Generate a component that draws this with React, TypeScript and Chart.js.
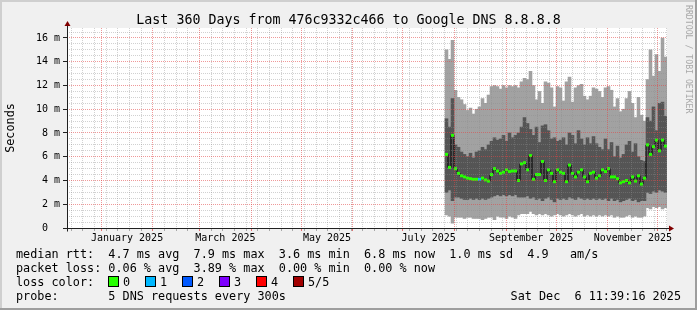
import React, { useEffect, useRef } from 'react';
import { Chart, registerables } from 'chart.js';

Chart.register(...registerables);

// ---------- text ----------
const TITLE = 'Last 360 Days from 476c9332c466 to Google DNS 8.8.8.8';
const Y_TITLE = 'Seconds';
const WATERMARK = 'RRDTOOL / TOBI OETIKER';
const LEGEND_RTT = 'median rtt:  4.7 ms avg  7.9 ms max  3.6 ms min  6.8 ms now  1.0 ms sd  4.9   am/s';
const LEGEND_LOSS = 'packet loss: 0.06 % avg  3.89 % max  0.00 % min  0.00 % now';
const LEGEND_LOSS_COLOR = 'loss color:';
const LEGEND_PROBE = 'probe:       5 DNS requests every 300s';
const STAMP = 'Sat Dec  6 11:39:16 2025';

// ---------- loss colour legend ----------
const lossLabels = ['0', '1', '2', '3', '4', '5/5'];
const lossColors = ['#26ff00', '#00b8ff', '#0059ff', '#7e00ff', '#ff0000', '#a10000'];

// ---------- time axis ----------
const RANGE_DAYS = 360;
const DAY_MS = 86400000;
const GRAPH_END = Date.UTC(2025, 11, 6, 11, 39, 16);
const GRAPH_START = GRAPH_END - RANGE_DAYS * DAY_MS;
const monthLabelNames = ['January 2025', 'March 2025', 'May 2025', 'July 2025', 'September 2025', 'November 2025'];
const monthLabelIndex = [0, 2, 4, 6, 8, 10];

// sampling of consolidated data (day offset of first column centre, column width in days)
const firstSampleDay = 227.7;
const sampleStepDays = 1.8;

// ---------- y axis ----------
const Y_MAX = 16.84;
const yMajorStep = 2;
const yMinorStep = 0.5;

// ---------- series (milliseconds) ----------
const outerHigh = [15.0, 14.2, 15.8, 11.6, 11.0, 10.8, 10.4, 9.9, 10.1, 9.6,
  10.0, 10.2, 10.9, 10.5, 11.2, 11.9, 12.0, 11.9, 11.7, 12.0,
  11.8, 12.0, 11.9, 12.0, 11.8, 12.3, 12.6, 12.5, 13.2, 12.0,
  10.8, 11.5, 10.5, 12.3, 12.2, 11.8, 10.2, 11.9, 11.8, 10.7,
  12.3, 12.7, 10.6, 11.8, 12.0, 12.1, 11.1, 10.8, 11.1, 11.8,
  11.7, 11.5, 11.0, 11.8, 11.9, 11.6, 10.2, 10.9, 9.8, 10.0,
  10.9, 11.5, 10.5, 9.3, 11.0, 9.5, 9.0, 12.5, 15.0, 12.8,
  14.6, 13.2, 16.0, 14.4];
const innerHigh = [9.2, 8.5, 10.9, 7.0, 6.8, 6.4, 6.2, 6.0, 6.3, 5.9,
  6.4, 6.5, 6.8, 6.6, 7.0, 7.3, 7.6, 7.4, 7.5, 7.8,
  7.3, 8.0, 7.6, 7.8, 8.0, 8.5, 9.3, 8.8, 8.3, 7.8,
  8.5, 7.2, 8.6, 8.7, 8.2, 7.5, 7.6, 7.3, 7.4, 7.6,
  7.0, 8.0, 7.8, 7.1, 8.2, 7.5, 7.0, 7.6, 7.1, 7.7,
  7.1, 6.8, 6.6, 7.5, 6.6, 7.2, 6.0, 6.9, 5.9, 6.2,
  7.0, 7.3, 6.4, 7.1, 6.0, 5.7, 5.6, 9.3, 9.0, 10.2,
  8.2, 10.5, 10.6, 9.4];
const medianRtt = [6.2, 5.1, 7.8, 5.0, 4.6, 4.4, 4.3, 4.2, 4.15, 4.1,
  4.1, 4.1, 4.2, 4.05, 3.95, 4.5, 5.0, 4.8, 4.6, 4.7,
  4.9, 4.75, 4.8, 4.8, 4.0, 5.4, 5.5, 4.9, 6.1, 4.1,
  4.5, 4.5, 5.6, 4.0, 4.9, 4.6, 3.9, 4.9, 4.7, 4.6,
  3.9, 5.3, 4.6, 4.3, 4.7, 4.9, 4.3, 3.9, 4.6, 4.7,
  4.2, 4.4, 4.9, 4.75, 5.0, 4.3, 4.3, 4.15, 3.8, 3.9,
  4.0, 3.8, 4.3, 3.95, 4.4, 3.7, 4.2, 7.0, 6.2, 6.85,
  7.4, 6.5, 7.4, 6.9];
const innerLow = [3.0, 3.2, 2.3, 2.6, 2.6, 2.5, 2.4, 2.4, 2.5, 2.4,
  2.5, 2.4, 2.5, 2.4, 2.5, 2.6, 2.7, 2.8, 2.7, 2.8,
  2.7, 2.8, 2.7, 2.8, 2.6, 2.6, 2.6, 2.7, 2.5, 2.6,
  2.4, 2.5, 2.3, 2.5, 2.6, 2.4, 2.2, 2.5, 2.4, 2.5,
  2.4, 2.6, 2.5, 2.4, 2.6, 2.5, 2.4, 2.5, 2.4, 2.5,
  2.4, 2.5, 2.4, 2.5, 2.3, 2.5, 2.3, 2.4, 2.2, 2.3,
  2.4, 2.5, 2.3, 2.4, 2.2, 2.3, 2.3, 3.0, 2.9, 3.1,
  3.0, 3.2, 3.1, 3.0];
const outerLow = [1.1, 1.0, 0.4, 0.9, 0.9, 0.9, 0.8, 0.9, 0.9, 0.8,
  0.8, 0.8, 0.7, 0.8, 0.9, 0.9, 0.7, 1.0, 0.9, 0.9,
  0.8, 1.0, 0.9, 0.8, 1.1, 1.2, 1.2, 1.2, 1.4, 1.2,
  1.1, 1.2, 1.1, 1.2, 1.1, 1.0, 1.1, 1.2, 1.1, 1.0,
  1.1, 1.2, 1.1, 1.0, 1.1, 1.2, 1.0, 1.1, 1.0, 1.1,
  1.0, 1.1, 1.0, 1.1, 1.0, 1.1, 0.9, 1.0, 0.9, 0.9,
  1.0, 1.1, 0.9, 1.0, 0.9, 0.9, 1.0, 1.7, 1.6, 1.8,
  1.7, 1.8, 1.6, 1.7];
const lossCount = [0, 0, 0, 0, 0, 0, 0, 0, 0, 0,
  0, 1, 0, 0, 0, 0, 0, 0, 0, 0,
  0, 0, 0, 0, 0, 0, 0, 0, 0, 0,
  0, 0, 0, 0, 0, 0, 0, 0, 0, 0,
  0, 0, 0, 0, 0, 0, 0, 0, 0, 0,
  0, 0, 0, 0, 0, 0, 0, 0, 0, 0,
  0, 0, 0, 0, 0, 0, 0, 0, 0, 0,
  0, 0, 0, 0];

const MONO = '"DejaVu Sans Mono", "Liberation Mono", monospace';
const PLOT_WIDTH = 600;
const MAJOR_GRID = 'rgba(225,70,70,0.55)';
const MINOR_GRID = 'rgba(140,140,140,0.4)';

export default function App() {
  const ref = useRef<HTMLCanvasElement | null>(null);

  useEffect(() => {
    document.body.style.margin = '0';
    const canvas = ref.current;
    if (!canvas) return;

    const dayOf = (t: number) => (t - GRAPH_START) / DAY_MS;

    // x ticks: weekly (minor), month starts (major), mid-month (labels)
    const kinds = new Map<number, string>();
    const labelText = new Map<number, string>();
    const monthDays: number[] = [];
    for (let t = Date.UTC(2024, 11, 14); t < GRAPH_END; t += 7 * DAY_MS) kinds.set(dayOf(t), 'week');
    for (let m = 0; m < 12; m++) {
      const d = dayOf(Date.UTC(2025, m, 1));
      kinds.set(d, 'month');
      monthDays.push(d);
    }
    monthLabelIndex.forEach((m, i) => {
      const d = (dayOf(Date.UTC(2025, m, 1)) + dayOf(Date.UTC(2025, m + 1, 1))) / 2;
      kinds.set(d, 'label');
      labelText.set(d, monthLabelNames[i]);
    });
    const xTickValues = Array.from(kinds.keys()).filter(v => v > 0 && v < RANGE_DAYS).sort((a, b) => a - b);

    const yTickValues: number[] = [];
    for (let v = 0; v <= Y_MAX; v += yMinorStep) yTickValues.push(v);

    const days = medianRtt.map((_, i) => firstSampleDay + i * sampleStepDays);
    const band = (lo: number[], hi: number[]) => days.map((d, i) => ({ x: d, y: [lo[i], hi[i]] }));
    const columnPx = (sampleStepDays * PLOT_WIDTH) / RANGE_DAYS;

    const isMajorY = (v: number) => Math.abs(v / yMajorStep - Math.round(v / yMajorStep)) < 1e-6;

    const chrome = {
      id: 'rrdChrome',
      beforeDraw(chart: any) {
        const { ctx, chartArea: a, width: W, height: H } = chart;
        ctx.save();
        ctx.fillStyle = '#F0F0F0';
        ctx.fillRect(0, 0, W, H);
        ctx.fillStyle = '#CFCFCF';
        ctx.fillRect(0, 0, W, 2);
        ctx.fillRect(0, 0, 2, H);
        ctx.fillStyle = '#9E9E9E';
        ctx.fillRect(0, H - 2, W, 2);
        ctx.fillRect(W - 2, 0, 2, H);
        ctx.fillStyle = '#FFFFFF';
        ctx.fillRect(a.left, a.top, a.right - a.left, a.bottom - a.top);
        ctx.restore();
      },
      afterDraw(chart: any) {
        const { ctx, chartArea: a, width: W } = chart;
        const xs = chart.scales.x;
        const ax = Math.round(a.left) + 0.5;
        const ay = Math.round(a.bottom) + 0.5;
        ctx.save();

        // month major grid (dotted red)
        ctx.strokeStyle = MAJOR_GRID;
        ctx.lineWidth = 1;
        ctx.setLineDash([1, 1]);
        monthDays.forEach(d => {
          if (d <= 0 || d >= RANGE_DAYS) return;
          const px = Math.floor(xs.getPixelForValue(d)) + 0.5;
          ctx.beginPath();
          ctx.moveTo(px, a.top);
          ctx.lineTo(px, a.bottom);
          ctx.stroke();
        });
        ctx.setLineDash([]);

        // axes
        ctx.strokeStyle = '#202020';
        ctx.beginPath();
        ctx.moveTo(ax, a.top - 2);
        ctx.lineTo(ax, ay + 3);
        ctx.moveTo(ax - 4, ay);
        ctx.lineTo(a.right + 3, ay);
        ctx.stroke();
        ctx.fillStyle = '#800000';
        ctx.beginPath();
        ctx.moveTo(ax - 3, a.top - 2);
        ctx.lineTo(ax + 3, a.top - 2);
        ctx.lineTo(ax, a.top - 7);
        ctx.closePath();
        ctx.fill();
        ctx.beginPath();
        ctx.moveTo(a.right + 2, ay - 3);
        ctx.lineTo(a.right + 2, ay + 3);
        ctx.lineTo(a.right + 7, ay);
        ctx.closePath();
        ctx.fill();

        // title
        ctx.fillStyle = '#000';
        ctx.font = `13.3px ${MONO}`;
        ctx.textAlign = 'center';
        ctx.textBaseline = 'alphabetic';
        ctx.fillText(TITLE, W / 2, 24);

        // y title
        ctx.save();
        ctx.translate(10.5, 128);
        ctx.rotate(-Math.PI / 2);
        ctx.font = `11.8px ${MONO}`;
        ctx.textAlign = 'center';
        ctx.textBaseline = 'middle';
        ctx.fillText(Y_TITLE, 0, 0);
        ctx.restore();

        // watermark
        ctx.save();
        ctx.translate(688, 5);
        ctx.rotate(Math.PI / 2);
        ctx.font = `8.2px ${MONO}`;
        ctx.fillStyle = '#a8a8a8';
        ctx.textAlign = 'left';
        ctx.textBaseline = 'middle';
        ctx.fillText(WATERMARK, 0, 0);
        ctx.restore();

        // legend
        ctx.font = `11.8px ${MONO}`;
        ctx.fillStyle = '#000';
        ctx.textAlign = 'left';
        ctx.textBaseline = 'alphabetic';
        ctx.fillText(LEGEND_RTT, 16, 258);
        ctx.fillText(LEGEND_LOSS, 16, 272);
        ctx.fillText(LEGEND_LOSS_COLOR, 16, 286);
        ctx.fillText(LEGEND_PROBE, 16, 300);
        lossLabels.forEach((lbl, i) => {
          const bx = 108 + 37 * i;
          ctx.fillStyle = lossColors[i];
          ctx.fillRect(bx, 276, 11, 11);
          ctx.strokeStyle = '#000';
          ctx.strokeRect(bx + 0.5, 276.5, 10, 10);
          ctx.fillStyle = '#000';
          ctx.fillText(lbl, bx + 15, 286);
        });
        ctx.textAlign = 'right';
        ctx.fillText(STAMP, 681, 300);
        ctx.restore();
      },
    };

    const chart = new Chart(canvas, {
      type: 'bar',
      data: {
        datasets: [
          {
            type: 'line',
            label: 'median',
            data: days.map((d, i) => ({ x: d, y: medianRtt[i] })),
            stepped: 'middle',
            borderColor: '#000000',
            borderWidth: 1,
            fill: false,
            pointStyle: 'line',
            pointRadius: 1.5,
            pointHoverRadius: 1.5,
            pointBorderWidth: 3,
            pointBorderColor: lossCount.map(c => lossColors[c]),
            order: 0,
          } as any,
          {
            type: 'bar',
            label: 'inner smoke',
            data: band(innerLow, innerHigh) as any,
            backgroundColor: '#555555',
            borderWidth: 0,
            barThickness: columnPx,
            grouped: false,
            inflateAmount: 0.3,
            order: 1,
          } as any,
          {
            type: 'bar',
            label: 'outer smoke',
            data: band(outerLow, outerHigh) as any,
            backgroundColor: '#a2a2a2',
            borderWidth: 0,
            barThickness: columnPx,
            grouped: false,
            inflateAmount: 0.3,
            order: 2,
          } as any,
        ],
      },
      options: {
        animation: false,
        responsive: false,
        devicePixelRatio: 1,
        events: [],
        layout: { padding: { left: 0, top: 28, right: 30, bottom: 62 } },
        plugins: {
          legend: { display: false },
          tooltip: { enabled: false },
          title: { display: false },
        },
        scales: {
          x: {
            type: 'linear',
            min: 0,
            max: RANGE_DAYS,
            offset: false,
            afterBuildTicks: (scale: any) => {
              scale.ticks = xTickValues.map(v => ({ value: v }));
            },
            afterFit: (scale: any) => {
              scale.height = 20;
            },
            grid: {
              offset: false,
              z: 1,
              lineWidth: 1,
              drawTicks: true,
              tickLength: 3,
              color: (ctx: any) => {
                const k = kinds.get(ctx.tick?.value);
                if (k === 'week') return MINOR_GRID;
                return 'rgba(0,0,0,0)';
              },
              tickColor: (ctx: any) => {
                const k = kinds.get(ctx.tick?.value);
                if (k === 'month') return 'rgba(222,80,80,0.8)';
                if (k === 'week') return 'rgba(120,120,120,0.6)';
                return 'rgba(0,0,0,0)';
              },
            },
            border: { display: false, dash: [1, 1] },
            ticks: {
              autoSkip: false,
              maxRotation: 0,
              minRotation: 0,
              padding: 1,
              color: '#000',
              font: { family: MONO, size: 10 },
              callback: (v: any) => labelText.get(v) ?? '',
            },
          } as any,
          y: {
            type: 'linear',
            min: 0,
            max: Y_MAX,
            afterBuildTicks: (scale: any) => {
              scale.ticks = yTickValues.map(v => ({ value: v }));
            },
            afterFit: (scale: any) => {
              scale.width = 67;
            },
            grid: {
              z: 1,
              lineWidth: 1,
              drawTicks: true,
              tickLength: 4,
              color: (ctx: any) => (isMajorY(ctx.tick?.value) ? MAJOR_GRID : MINOR_GRID),
              tickColor: (ctx: any) => (isMajorY(ctx.tick?.value) ? '#202020' : 'rgba(0,0,0,0)'),
            },
            border: { display: false, dash: [1, 1] },
            ticks: {
              autoSkip: false,
              padding: 3,
              color: '#000',
              font: { family: MONO, size: 10 },
              callback: (v: any) => {
                if (!isMajorY(v)) return '';
                return v === 0 ? '0  ' : `${v} m`;
              },
            },
          } as any,
        },
      },
      plugins: [chrome as any],
    });

    return () => chart.destroy();
  }, []);

  return (
    <div style={{ position: 'absolute', left: 0, top: 0, width: 697, height: 310 }}>
      <canvas ref={ref} width={697} height={310} style={{ display: 'block', width: 697, height: 310 }} />
    </div>
  );
}
